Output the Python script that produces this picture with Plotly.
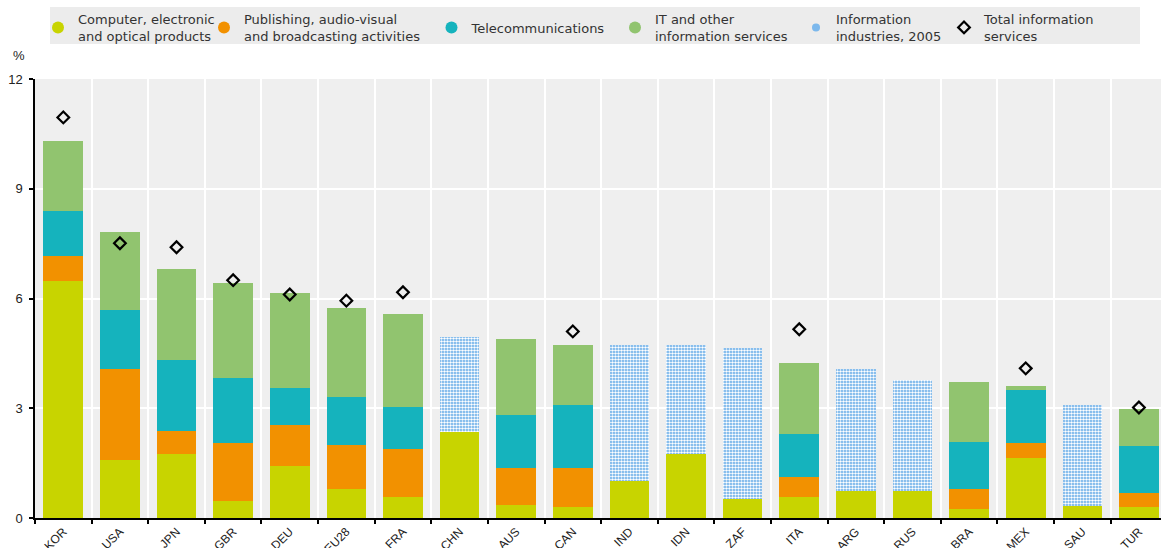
import plotly.graph_objects as go

countries = ["KOR", "USA", "JPN", "GBR", "DEU", "EU28", "FRA", "CHN", "AUS", "CAN",
             "IND", "IDN", "ZAF", "ITA", "ARG", "RUS", "BRA", "MEX", "SAU", "TUR"]

computer = [6.48, 1.58, 1.75, 0.46, 1.42, 0.80, 0.57, 2.36, 0.35, 0.29,
            1.01, 1.76, 0.51, 0.57, 0.74, 0.74, 0.25, 1.64, 0.34, 0.30]
publishing = [0.68, 2.48, 0.63, 1.58, 1.12, 1.19, 1.31, None, 1.01, 1.07,
              None, None, None, 0.56, None, None, 0.54, 0.40, None, 0.38]
telecom = [1.23, 1.63, 1.95, 1.79, 1.01, 1.33, 1.16, None, 1.45, 1.74,
           None, None, None, 1.17, None, None, 1.29, 1.45, None, 1.30]
it_services = [1.91, 2.13, 2.47, 2.59, 2.59, 2.42, 2.53, None, 2.09, 1.63,
               None, None, None, 1.93, None, None, 1.64, 0.12, None, 1.01]
info_2005 = [None, None, None, None, None, None, None, 2.59, None, None,
             3.72, 2.97, 4.15, None, 3.32, 3.03, None, None, 2.76, None]
total_info = [10.95, 7.51, 7.40, 6.50, 6.11, 5.94, 6.17, None, None, 5.10,
              None, None, None, 5.16, None, None, None, 4.09, None, 3.02]

names = ["Computer, electronic<br>and optical products",
         "Publishing, audio-visual<br>and broadcasting activities",
         "Telecommunications",
         "IT and other<br>information services",
         "Information<br>industries, 2005",
         "Total information<br>services"]

c_comp = "#c8d400"
c_pub = "#f29100"
c_tel = "#15b3bd"
c_it = "#91c46f"
c_pat = "#5aa5e6"

fig = go.Figure()

for vals, col in [(computer, c_comp), (publishing, c_pub), (telecom, c_tel), (it_services, c_it)]:
    fig.add_trace(go.Bar(x=countries, y=vals, marker=dict(color=col, line=dict(width=0)),
                         showlegend=False, hoverinfo="x+y"))

fig.add_trace(go.Bar(x=countries, y=info_2005,
                     marker=dict(color=c_pat, line=dict(width=0),
                                 pattern=dict(shape=".", size=3, solidity=0.55,
                                              fgcolor="#ffffff", bgcolor=c_pat,
                                              fillmode="replace")),
                     showlegend=False, hoverinfo="x+y"))

fig.add_trace(go.Scatter(x=countries, y=total_info, mode="markers",
                         marker=dict(symbol="diamond-open", size=9, color="#000000",
                                     line=dict(width=2.2, color="#000000")),
                         name=names[5], legend="legend6", hoverinfo="x+y"))

# legend entries (circle symbols as in the original)
leg_syms = [(c_comp, 12), (c_pub, 12), (c_tel, 12), (c_it, 12), ("#7cb8ec", 8)]
for i, (col, sz) in enumerate(leg_syms):
    fig.add_trace(go.Scatter(x=[None], y=[None], mode="markers",
                             marker=dict(symbol="circle", size=sz, color=col),
                             name=names[i], legend="legend" if i == 0 else f"legend{i+1}"))

L, R, T, B = 35, 0, 79, 30
W, H = 1161, 548
pw = W - L - R
ph = H - T - B

def px_x(p):
    return (p - L) / pw

def px_y(p):
    return (H - B - p) / ph

leg_font = dict(family="DejaVu Sans", size=13, color="#333333")
text_starts = [78, 244, 471.5, 655, 836, 984]
legends = {}
for i, ts in enumerate(text_starts):
    key = "legend" if i == 0 else f"legend{i+1}"
    legends[key] = dict(x=px_x(ts - 40), y=px_y(27.5), xanchor="left", yanchor="middle",
                        orientation="h", bgcolor="rgba(0,0,0,0)", borderwidth=0,
                        font=leg_font, itemclick=False, itemdoubleclick=False)

fig.update_layout(
    width=W, height=H, autosize=False,
    margin=dict(l=L, r=R, t=T, b=B, pad=0, autoexpand=False),
    barmode="stack", bargap=0.3,
    plot_bgcolor="#efefef", paper_bgcolor="#ffffff",
    font=dict(family="Liberation Sans", size=13, color="#222222"),
    **legends,
    shapes=[dict(type="rect", xref="paper", yref="paper",
                 x0=px_x(50), x1=px_x(1140), y0=px_y(44), y1=px_y(7),
                 fillcolor="#ececec", line=dict(width=0), layer="below")],
    annotations=[dict(text="%", xref="paper", yref="paper", x=px_x(19), y=px_y(56),
                      xanchor="center", yanchor="middle", showarrow=False,
                      font=dict(family="Liberation Sans", size=13, color="#222222"))],
)

fig.update_xaxes(type="category", range=[-0.5, len(countries) - 0.61],
                 tickson="boundaries", ticks="outside", ticklen=4,
                 tickcolor="#000000", tickwidth=1.5,
                 showgrid=True, gridcolor="#ffffff", gridwidth=2,
                 showline=True, linecolor="#000000", linewidth=2,
                 tickangle=-45, tickfont=dict(family="Liberation Sans", size=12, color="#222222"))
fig.update_yaxes(range=[0, 12], tickvals=[0, 3, 6, 9, 12], ticks="outside", ticklen=4,
                 tickcolor="#000000", tickwidth=1.5,
                 showgrid=True, gridcolor="#ffffff", gridwidth=2, zeroline=False,
                 showline=True, linecolor="#000000", linewidth=1.5,
                 ticklabelstandoff=4,
                 tickfont=dict(family="Liberation Sans", size=13, color="#222222"))

fig.write_html("out.html", config={"displayModeBar": False},
               post_script="document.body.style.margin='0';document.body.style.overflow='hidden';")
